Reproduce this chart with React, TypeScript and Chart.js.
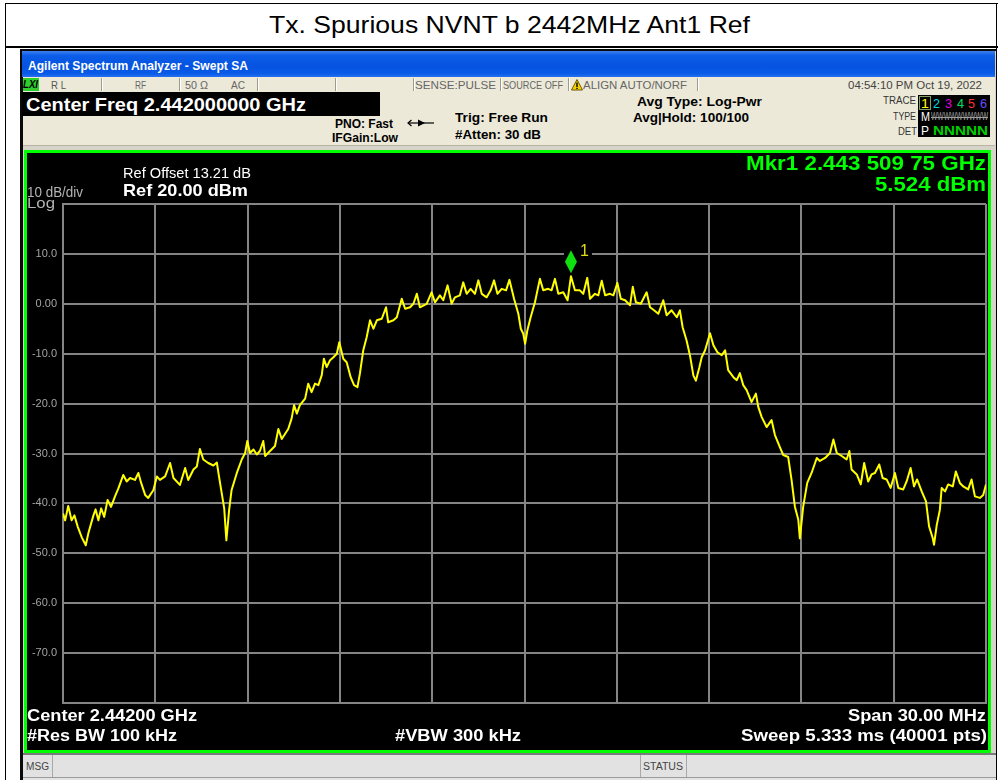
import React, { useEffect, useLayoutEffect, useRef } from 'react';
import { Chart, registerables } from 'chart.js';
Chart.register(...registerables);

// ---------------- DATA ----------------
const centerFreqMHz = 2442;
const spanMHz = 30;
const freqOffsetMHz = [
  -15.00, -14.93, -14.83, -14.72, -14.63, -14.52, -14.39, -14.26, -14.18, -14.09,
  -14.01, -13.94, -13.85, -13.76, -13.66, -13.55, -13.44, -13.31, -13.20, -13.04,
  -12.93, -12.82, -12.66, -12.55, -12.46, -12.33, -12.23, -12.06, -11.95, -11.85,
  -11.68, -11.52, -11.41, -11.20, -11.03, -10.93, -10.76, -10.65, -10.55, -10.44,
  -10.28, -10.11, -10.00, -9.93, -9.84, -9.76, -9.69, -9.60, -9.52, -9.35,
  -9.19, -9.08, -9.01, -8.92, -8.81, -8.70, -8.60, -8.49, -8.43, -8.27,
  -8.11, -8.00, -7.89, -7.68, -7.57, -7.49, -7.40, -7.30, -7.13, -7.03,
  -6.92, -6.81, -6.70, -6.59, -6.52, -6.43, -6.32, -6.21, -6.10, -6.02,
  -5.89, -5.78, -5.65, -5.54, -5.43, -5.35, -5.24, -5.13, -5.02, -4.91,
  -4.80, -4.64, -4.50, -4.43, -4.26, -4.15, -3.99, -3.88, -3.72, -3.61,
  -3.50, -3.40, -3.18, -3.02, -2.91, -2.75, -2.64, -2.50, -2.37, -2.26,
  -2.10, -1.99, -1.88, -1.75, -1.61, -1.50, -1.39, -1.23, -1.10, -0.99,
  -0.88, -0.74, -0.60, -0.49, -0.34, -0.20, -0.12, -0.04, 0.02, 0.09,
  0.20, 0.34, 0.50, 0.61, 0.77, 0.88, 0.99, 1.10, 1.26, 1.40,
  1.51, 1.64, 1.80, 1.91, 2.04, 2.13, 2.29, 2.40, 2.51, 2.62,
  2.78, 2.89, 3.02, 3.13, 3.27, 3.43, 3.52, 3.62, 3.78, 3.97,
  4.08, 4.21, 4.35, 4.51, 4.62, 4.78, 4.95, 5.05, 5.14, 5.27,
  5.38, 5.49, 5.57, 5.68, 5.76, 5.87, 6.03, 6.14, 6.27, 6.41,
  6.52, 6.62, 6.79, 6.90, 7.00, 7.11, 7.22, 7.38, 7.52, 7.60,
  7.71, 7.87, 8.03, 8.14, 8.30, 8.41, 8.57, 8.68, 8.79, 8.90,
  8.95, 9.06, 9.19, 9.33, 9.50, 9.60, 9.77, 9.93, 10.04, 10.15,
  10.31, 10.47, 10.56, 10.63, 10.80, 10.93, 11.04, 11.17, 11.28, 11.39,
  11.53, 11.64, 11.77, 11.90, 12.04, 12.15, 12.31, 12.42, 12.55, 12.66,
  12.76, 12.91, 13.05, 13.15, 13.27, 13.31, 13.40, 13.50, 13.56, 13.67,
  13.77, 13.92, 14.02, 14.15, 14.26, 14.42, 14.53, 14.64, 14.80, 14.91,
  15.00,
];
const traceDbm = [
  -42.0, -43.4, -40.5, -43.4, -42.4, -44.7, -46.8, -48.4, -46.1, -44.1,
  -42.4, -41.2, -43.4, -41.0, -42.7, -39.3, -40.7, -38.6, -37.0, -34.3,
  -35.6, -34.9, -35.3, -33.9, -35.9, -38.3, -38.9, -37.3, -34.6, -35.3,
  -34.6, -31.9, -34.9, -36.3, -32.9, -35.3, -33.2, -32.6, -29.1, -31.2,
  -31.9, -32.4, -31.8, -34.6, -38.0, -41.0, -47.4, -41.3, -37.3, -33.9,
  -31.2, -29.9, -27.5, -29.9, -29.2, -30.2, -29.5, -27.5, -30.5, -29.5,
  -28.5, -25.1, -27.1, -25.1, -23.0, -20.3, -22.0, -20.3, -19.0, -16.0,
  -17.7, -16.0, -16.3, -14.3, -11.0, -12.7, -11.3, -10.7, -10.0, -7.7,
  -11.0, -11.7, -14.7, -16.3, -16.7, -14.0, -9.3, -6.7, -3.3, -5.0,
  -3.3, -3.0, -0.7, -3.7, -3.3, -2.7, 1.0, -1.0, -0.7, 0.0,
  2.0, -0.7, 0.0, 2.3, 0.3, 1.7, 0.7, 3.7, 0.0, 1.3,
  1.7, 4.3, 2.0, 3.0, 2.0, 4.7, 2.0, 1.3, 2.7, 4.7,
  2.0, 3.0, 2.7, 4.8, 1.0, -2.0, -5.0, -6.0, -8.0, -5.4,
  -2.7, 0.3, 5.0, 2.7, 3.0, 2.7, 5.0, 2.0, 2.3, 0.7,
  5.524, 2.7, 2.7, 2.0, 5.2, 1.0, 2.0, 1.7, 4.6, 1.7,
  2.0, 1.7, 4.2, 1.0, 0.7, -0.3, 3.4, 0.3, 0.0, 2.3,
  -0.7, -1.3, -2.0, 0.7, -2.3, -1.3, -2.7, -1.3, -4.7, -7.4,
  -10.4, -14.4, -15.4, -12.8, -10.7, -9.3, -5.9, -8.3, -9.7, -10.3,
  -9.3, -13.3, -14.7, -15.3, -13.9, -16.3, -17.3, -19.7, -18.0, -20.7,
  -22.7, -24.7, -23.3, -26.3, -28.7, -30.3, -30.7, -35.3, -40.7, -43.3,
  -47.0, -40.6, -35.9, -33.9, -30.9, -31.5, -30.9, -29.9, -27.2, -29.9,
  -30.5, -31.2, -29.5, -33.2, -34.2, -36.2, -31.9, -35.6, -34.2, -33.9,
  -32.2, -34.9, -35.2, -36.9, -33.9, -36.9, -37.2, -35.6, -32.9, -36.6,
  -35.2, -37.6, -39.6, -44.6, -47.0, -48.3, -44.3, -41.3, -36.9, -37.6,
  -36.2, -36.6, -33.6, -35.9, -36.6, -37.2, -35.2, -38.6, -38.9, -38.3,
  -36.2,
];
const markerOffsetMHz = 1.51;
const markerDbm = 5.524;
const markerLabel = '1';
const refLevelDbm = 20;
const bottomLevelDbm = -80;
const yTickValues = [20, 10, 0, -10, -20, -30, -40, -50, -60, -70, -80];
const yTickLabels = ['', '10.0', '0.00', '-10.0', '-20.0', '-30.0', '-40.0', '-50.0', '-60.0', '-70.0', ''];
const xGridOffsets = [-15, -12, -9, -6, -3, 0, 3, 6, 9, 12, 15];

// ---------------- STYLE ----------------
const FONT = '"Liberation Sans", Arial, Helvetica, sans-serif';
const GRID = '#858585';
const GREEN = '#00ff00';

type TxtProps = {
  x: number; x2: number; cy: number; fs: number; bold?: boolean; color?: string;
  italic?: boolean; deco?: string; children: React.ReactNode;
};
function Txt({ x, x2, cy, fs, bold, color = '#000', italic, deco, children }: TxtProps) {
  const ref = useRef<HTMLDivElement>(null);
  useLayoutEffect(() => {
    const el = ref.current;
    if (!el) return;
    el.style.transform = 'none';
    const w = el.getBoundingClientRect().width;
    if (w > 0) el.style.transform = `scaleX(${(x2 - x) / w})`;
  }, []);
  return (
    <div
      ref={ref}
      style={{
        position: 'absolute', left: x, top: cy - fs / 2, fontSize: fs, lineHeight: `${fs}px`,
        fontWeight: bold ? 700 : 400, fontStyle: italic ? 'italic' : 'normal', color,
        fontFamily: FONT, whiteSpace: 'nowrap', transformOrigin: 'left center',
        textDecoration: deco || 'none',
      }}
    >
      {children}
    </div>
  );
}

function Box({ x, y, w, h, bg, extra }: { x: number; y: number; w: number; h: number; bg: string; extra?: React.CSSProperties }) {
  return <div style={{ position: 'absolute', left: x, top: y, width: w, height: h, background: bg, ...extra }} />;
}

const markerPlugin = {
  id: 'mkr',
  afterDatasetsDraw(chart: any) {
    const { ctx, scales } = chart;
    const px = scales.x.getPixelForValue(markerOffsetMHz);
    const py = scales.y.getPixelForValue(markerDbm);
    ctx.save();
    ctx.fillStyle = '#000';
    ctx.fillRect(px - 7, py - 31, 28, 14);
    ctx.fillStyle = '#10e010';
    ctx.beginPath();
    ctx.moveTo(px, py - 26);
    ctx.lineTo(px + 6, py - 14.5);
    ctx.lineTo(px, py - 3);
    ctx.lineTo(px - 6, py - 14.5);
    ctx.closePath();
    ctx.fill();
    ctx.fillStyle = '#e0dc10';
    ctx.font = `16px ${FONT}`;
    ctx.textBaseline = 'middle';
    ctx.textAlign = 'left';
    ctx.fillText(markerLabel, px + 9, py - 25);
    ctx.restore();
  },
};

function Plot() {
  const ref = useRef<HTMLCanvasElement>(null);
  useEffect(() => {
    if (!ref.current) return;
    const points = freqOffsetMHz.map((f, i) => ({ x: f, y: traceDbm[i] }));
    const chart = new Chart(ref.current, {
      type: 'line',
      data: {
        datasets: [{
          data: points, borderColor: '#ffff00', borderWidth: 2, pointRadius: 0,
          tension: 0, fill: false, borderJoinStyle: 'round',
        }],
      },
      options: {
        animation: false, responsive: false, devicePixelRatio: 1,
        layout: { padding: { top: 51, right: 2, bottom: 47, left: 0 } },
        plugins: { legend: { display: false }, tooltip: { enabled: false } },
        scales: {
          x: {
            type: 'linear', min: -spanMHz / 2, max: spanMHz / 2,
            afterBuildTicks: (s: any) => { s.ticks = xGridOffsets.map((v) => ({ value: v })); },
            afterFit: (s: any) => { s.height = 0; },
            ticks: { display: false },
            grid: { color: GRID, lineWidth: 2, drawTicks: false },
            border: { display: true, color: GRID, width: 2 },
          },
          y: {
            type: 'linear', min: bottomLevelDbm, max: refLevelDbm,
            afterBuildTicks: (s: any) => { s.ticks = yTickValues.map((v) => ({ value: v })); },
            afterFit: (s: any) => { s.width = 36; },
            ticks: {
              padding: 6, color: '#a4a4a4', font: { family: FONT, size: 11 },
              callback: (v: any) => yTickLabels[yTickValues.indexOf(Number(v))] ?? '',
            },
            grid: { color: GRID, lineWidth: 2, drawTicks: false },
            border: { display: true, color: GRID, width: 2 },
          },
        },
      },
      plugins: [markerPlugin],
    } as any);
    return () => chart.destroy();
  }, []);
  return <canvas ref={ref} width={961} height={597} style={{ position: 'absolute', left: 27, top: 153, width: 961, height: 597 }} />;
}

const statusSeps = [101, 179, 257, 335, 413, 500, 568, 697];

export default function App() {
  const W = '#fff';
  return (
    <div style={{ position: 'fixed', left: 0, top: 0, width: 998, height: 780, background: '#fff', overflow: 'hidden', fontFamily: FONT }}>
      {/* table frame */}
      <Box x={5} y={3} w={993} h={1} bg="#000" />
      <Box x={5} y={46} w={993} h={1.5} bg="#000" />
      <Box x={5} y={3} w={1} h={777} bg="#000" />
      <Box x={996} y={3} w={1} h={777} bg="#000" />
      <Txt x={269} x2={750} cy={25} fs={24}>Tx. Spurious NVNT b 2442MHz Ant1 Ref</Txt>

      {/* instrument window */}
      <Box x={20} y={49} w={976} h={731} bg="#d6d3c8" />
      <Box x={20} y={49} w={976} h={2} bg="#0a0a0a" />
      <Box x={20} y={49} w={3} h={731} bg="#0a0a0a" />
      <Box x={22} y={51} w={973} h={26} bg="linear-gradient(to bottom, #3d80f0 0%, #0b5de8 18%, #0553e0 60%, #0a5ce8 88%, #2a72f0 100%)" />
      <Txt x={28} x2={248} cy={65} fs={13} bold color={W}>Agilent Spectrum Analyzer - Swept SA</Txt>

      {/* status row */}
      <Box x={23} y={77} w={972} h={15} bg="#ece9d8" />
      <Box x={23} y={78} w={16} h={13} bg="#2ccf2c" />
      <Txt x={23} x2={38} cy={85} fs={10} bold italic color="#000">LXI</Txt>
      {statusSeps.map((s) => (
        <React.Fragment key={s}>
          <Box x={s} y={78} w={1} h={13} bg="#9d9a8e" />
          <Box x={s + 1} y={78} w={1} h={13} bg="#ffffff" />
        </React.Fragment>
      ))}
      <Txt x={51} x2={66} cy={85} fs={11} color="#555">R L</Txt>
      <Txt x={135} x2={146} cy={85} fs={11} color="#666">RF</Txt>
      <Txt x={185} x2={208} cy={85} fs={11} color="#666">50 Ω</Txt>
      <Txt x={231} x2={245} cy={85} fs={11} color="#666">AC</Txt>
      <Txt x={415} x2={496} cy={85} fs={11} color="#666">SENSE:PULSE</Txt>
      <Txt x={503} x2={563} cy={85} fs={11} color="#666">SOURCE OFF</Txt>
      <svg style={{ position: 'absolute', left: 571, top: 79 }} width={12} height={12}>
        <polygon points="6,0.5 11.5,11 0.5,11" fill="#f5d000" stroke="#6a5a00" strokeWidth={1} />
        <rect x={5.3} y={3.5} width={1.4} height={4.5} fill="#000" />
        <rect x={5.3} y={8.8} width={1.4} height={1.3} fill="#000" />
      </svg>
      <Txt x={583} x2={687} cy={85} fs={11} color="#666">ALIGN AUTO/NORF</Txt>
      <Txt x={848} x2={982} cy={85} fs={11} color="#444">04:54:10 PM Oct 19, 2022</Txt>

      {/* beige panel */}
      <Box x={23} y={92} w={972} h={55} bg="#ece9d8" />
      <Box x={23} y={145} w={972} h={1} bg="#b8b5a8" />
      <Box x={23} y={146} w={972} h={4} bg="#d6d3c8" />
      <Box x={22} y={92} w={358} h={24} bg="#000" />
      <Txt x={26} x2={306} cy={104.5} fs={18} bold color={W}>Center Freq 2.442000000 GHz</Txt>
      <Txt x={335} x2={393} cy={124} fs={12} bold>PNO: Fast</Txt>
      <Txt x={332} x2={398} cy={138} fs={12} bold>IFGain:Low</Txt>
      <svg style={{ position: 'absolute', left: 406, top: 118 }} width={30} height={10}>
        <line x1={2} y1={5} x2={28} y2={5} stroke="#000" strokeWidth={1.2} />
        <polyline points="5.5,2 2,5 5.5,8" fill="none" stroke="#000" strokeWidth={1.2} />
        <polygon points="12,1.5 19,5 12,8.5" fill="#000" />
      </svg>
      <Txt x={455} x2={548} cy={118} fs={12} bold>Trig: Free Run</Txt>
      <Txt x={455} x2={541} cy={135} fs={12} bold>#Atten: 30 dB</Txt>
      <Txt x={637} x2={762} cy={102} fs={12} bold>Avg Type: Log-Pwr</Txt>
      <Txt x={633} x2={749} cy={118} fs={12} bold>Avg|Hold: 100/100</Txt>
      <Txt x={883} x2={916} cy={101} fs={10} color="#333">TRACE</Txt>
      <Txt x={893} x2={916} cy={117} fs={10} color="#333">TYPE</Txt>
      <Txt x={898} x2={917} cy={132} fs={10} color="#333">DET</Txt>
      <Box x={918} y={95} w={72} h={42} bg="#000" />
      <Box x={919} y={96} w={12} h={14} bg="#000" extra={{ border: '1px solid #7fa060', boxSizing: 'border-box' }} />
      <Txt x={921} x2={929} cy={103} fs={13} color="#ffff00">1</Txt>
      <Txt x={933} x2={940} cy={103} fs={13} color="#00d8e0">2</Txt>
      <Txt x={945} x2={952} cy={103} fs={13} color="#e000e0">3</Txt>
      <Txt x={957} x2={964} cy={103} fs={13} color="#00e060">4</Txt>
      <Txt x={968} x2={975} cy={103} fs={13} color="#ff3030">5</Txt>
      <Txt x={980} x2={987} cy={103} fs={13} color="#6a4cff">6</Txt>
      <Txt x={921} x2={930} cy={117} fs={12} color="#fff">M</Txt>
      <Txt x={931} x2={988} cy={117} fs={10} color="#a0a0a0" deco="line-through">WWWWWWWWW</Txt>
      <Txt x={921} x2={929} cy={131} fs={12} color="#fff">P</Txt>
      <Txt x={933} x2={988} cy={131} fs={12} bold color="#00d000">NNNNN</Txt>

      {/* plot region */}
      <Box x={24} y={150} w={967} h={603} bg="#000" extra={{ border: `3px solid ${GREEN}`, boxSizing: 'border-box' }} />
      <Plot />
      <Txt x={123} x2={251} cy={172.5} fs={14} color={W}>Ref Offset 13.21 dB</Txt>
      <Txt x={123} x2={248} cy={190} fs={17} bold color={W}>Ref 20.00 dBm</Txt>
      <Txt x={27} x2={83} cy={191.5} fs={14} color="#b4b4b4">10 dB/div</Txt>
      <Txt x={27} x2={55} cy={202.5} fs={14} color="#b4b4b4">Log</Txt>
      <Txt x={746} x2={986} cy={162.5} fs={21} bold color={GREEN}>Mkr1 2.443 509 75 GHz</Txt>
      <Txt x={875} x2={986} cy={183.5} fs={21} bold color={GREEN}>5.524 dBm</Txt>
      <Txt x={27} x2={197} cy={715.5} fs={16} bold color={W}>Center 2.44200 GHz</Txt>
      <Txt x={27} x2={177} cy={736} fs={16} bold color={W}>#Res BW 100 kHz</Txt>
      <Txt x={395} x2={521} cy={736} fs={16} bold color={W}>#VBW 300 kHz</Txt>
      <Txt x={848} x2={986} cy={715.5} fs={16} bold color={W}>Span 30.00 MHz</Txt>
      <Txt x={741} x2={987} cy={736} fs={16} bold color={W}>Sweep  5.333 ms (40001 pts)</Txt>

      {/* bottom bar */}
      <Box x={23} y={753} w={973} h={2} bg="#7a7a7a" />
      <Box x={23} y={755} w={973} h={25} bg="#e2e2e2" />
      <Box x={23} y={777} w={973} h={1} bg="#9a9a9a" />
      <Box x={52} y={755} w={1} h={22} bg="#a8a8a8" />
      <Box x={640} y={755} w={1} h={22} bg="#a8a8a8" />
      <Box x={686} y={755} w={1} h={22} bg="#a8a8a8" />
      <Txt x={26} x2={49} cy={766.5} fs={10} color="#444">MSG</Txt>
      <Txt x={643} x2={683} cy={766.5} fs={10} color="#444">STATUS</Txt>
    </div>
  );
}
